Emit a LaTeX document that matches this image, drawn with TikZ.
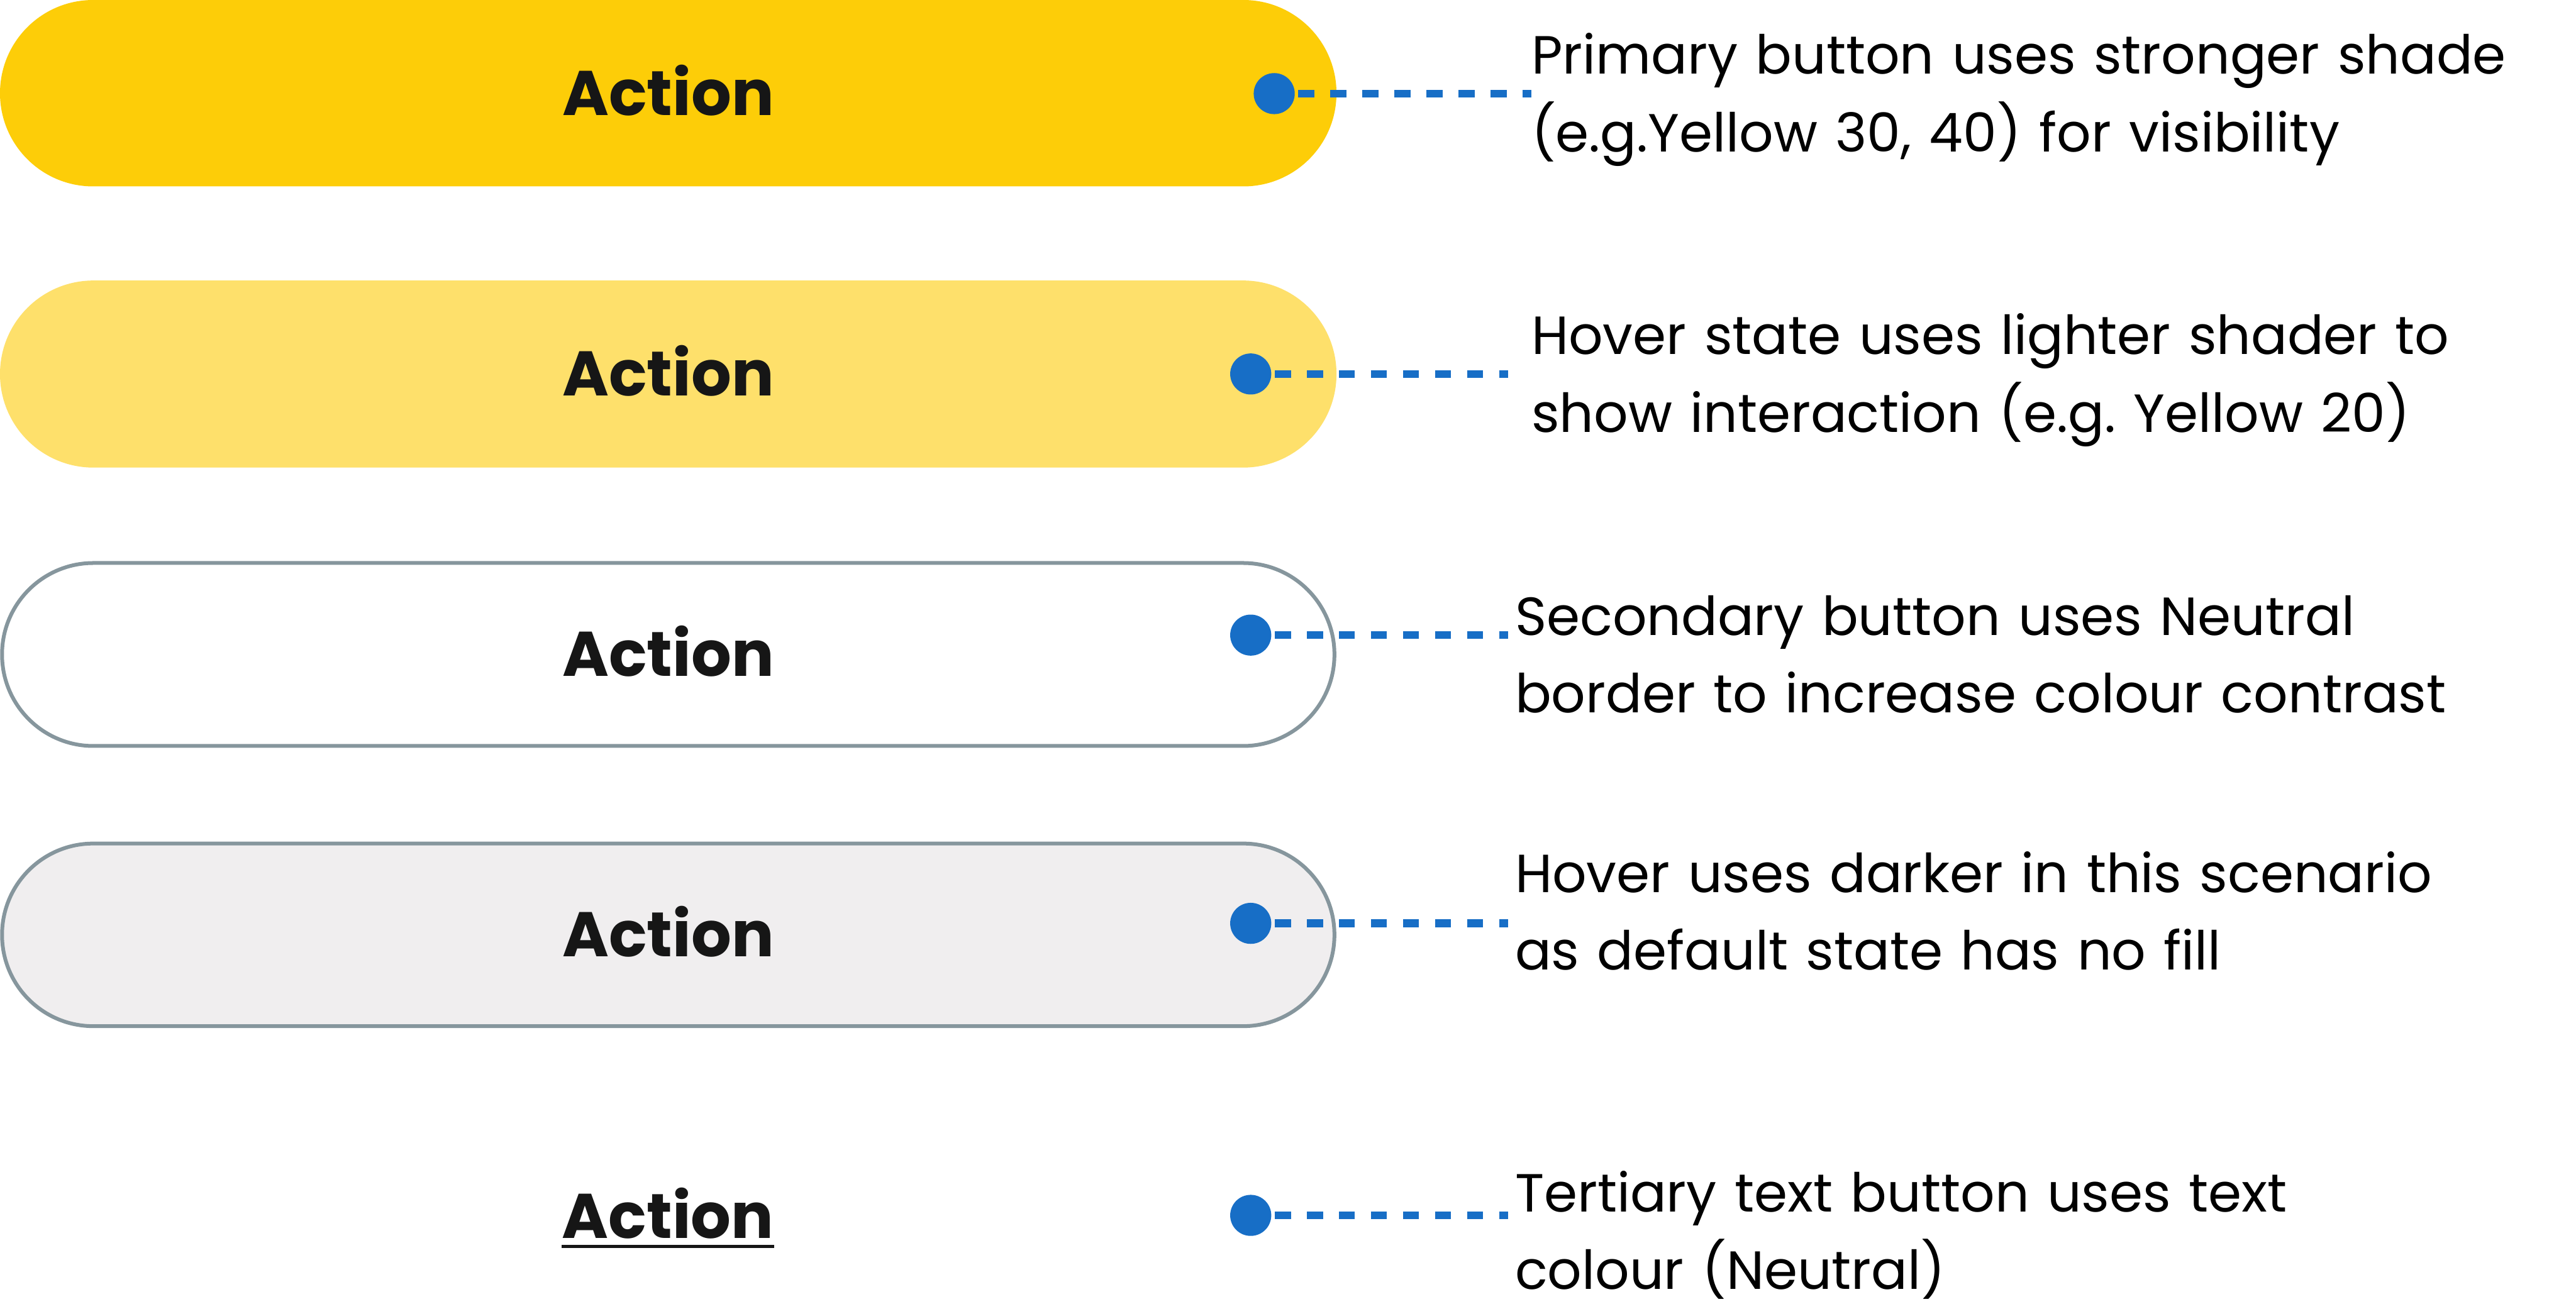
\documentclass[tikz,border=0pt]{standalone}
\usepackage{fontspec}
\setmainfont{Poppins}
\frenchspacing
\definecolor{yelA}{HTML}{FDCD08}
\definecolor{yelB}{HTML}{FEE06B}
\definecolor{edgeg}{HTML}{86969D}
\definecolor{hovg}{HTML}{F0EEEF}
\definecolor{dotb}{HTML}{176EC6}
\definecolor{actc}{HTML}{161616}
\tikzset{
  btn/.style={rectangle, inner sep=0pt, minimum width=#1},
  actlbl/.style={inner sep=0pt, text=actc, font=\fontsize{38.4}{40}\selectfont\bfseries, text height=26.8pt, text depth=0pt},
  dotn/.style={circle, fill=dotb, minimum size=25pt, inner sep=0pt},
  dashln/.style={draw=dotb, line width=4.7pt, dash pattern=on 9.75pt off 9.75pt, shorten <=2pt},
  desc/.style={anchor=base west, inner sep=0pt, align=left, text width=640pt, font=\fontsize{32.7}{47.2}\selectfont\frenchspacing},
  ul/.style={draw=actc, line width=2pt}
}
\begin{document}
\begin{tikzpicture}[x=1pt,y=-1pt]
\useasboundingbox[fill=white] (0,0) rectangle (1568,797);

% buttons
\node[btn=813.5pt, minimum height=113.5pt, rounded corners=56.7pt, fill=yelA] (b1) at (406.75,56.75) {};
\node[btn=813.5pt, minimum height=113.9pt, rounded corners=56.9pt, fill=yelB] (b2) at (406.75,227.75) {};
\node[btn=811pt, minimum height=111.4pt, rounded corners=55.6pt, draw=edgeg, line width=2.3pt, fill=white] (b3) at (406.75,398.5) {};
\node[btn=811pt, minimum height=111.2pt, rounded corners=55.5pt, draw=edgeg, line width=2.3pt, fill=hovg] (b4) at (406.75,569.2) {};

% labels
\node[actlbl] (a1) at (b1.center) {Action};
\node[actlbl] (a2) at (b2.center) {Action};
\node[actlbl] (a3) at (b3.center) {Action};
\node[actlbl] (a4) at (b4.center) {Action};
\node[actlbl] (a5) at (406.5,740.6) {Action};
\draw[ul] ([yshift=-5pt]a5.base west) -- ([yshift=-5pt]a5.base east);

% dots
\node[dotn] (d1) at (775.6,57) {};
\node[dotn] (d2) at (761.3,227.7) {};
\node[dotn] (d3) at (761.3,386.7) {};
\node[dotn] (d4) at (761.3,562.2) {};
\node[dotn] (d5) at (761.3,740) {};

\coordinate (e1) at (932,57);
\coordinate (e2) at (918,227.7);
\coordinate (e3) at (918,386.7);
\coordinate (e4) at (918,562.2);
\coordinate (e5) at (918,740);

\draw[dashln] (d1.east) -- (e1);
\draw[dashln] (d2.east) -- (e2);
\draw[dashln] (d3.east) -- (e3);
\draw[dashln] (d4.east) -- (e4);
\draw[dashln] (d5.east) -- (e5);

% descriptions
\node[desc] (t1) at (932,45.1) {Primary button uses stronger shade\\(e.g.Yellow 30, 40) for visibility};
\node[desc] (t2) at (932,215.8) {Hover state uses lighter shader to\\show interaction (e.g. Yellow 20)};
\node[desc] (t3) at (922,386.8) {Secondary button uses Neutral\\border to increase colour contrast};
\node[desc] (t4) at (922,543.3) {Hover uses darker in this scenario\\as default state has no fill};
\node[desc] (t5) at (922,737.7) {Tertiary text button uses text\\colour (Neutral)};
\end{tikzpicture}
\end{document}
